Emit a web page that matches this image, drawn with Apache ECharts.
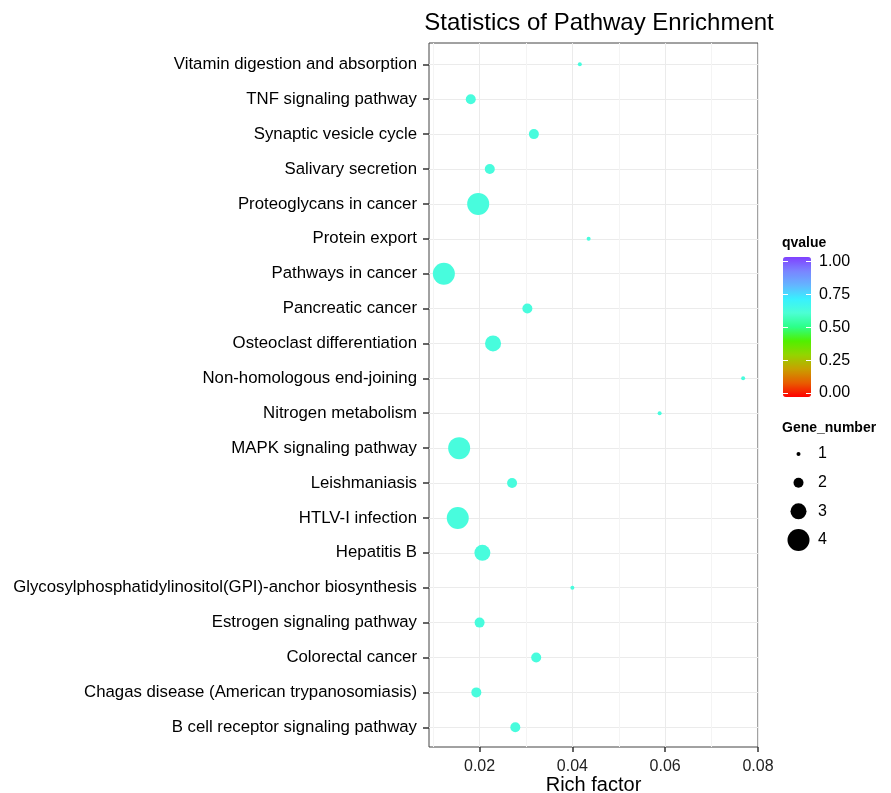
<!DOCTYPE html>
<html>
<head>
<meta charset="utf-8">
<script src="https://cdn.jsdelivr.net/npm/echarts@6/dist/echarts.min.js"></script>
<style>
html, body { margin: 0; padding: 0; background: #fff; }
#chart { width: 891px; height: 793px; }
</style>
</head>
<body>
<div id="chart"></div>
<script>
// pathways listed bottom to top, as ggplot stacks them
var pathways = [
    'B cell receptor signaling pathway',
    'Chagas disease (American trypanosomiasis)',
    'Colorectal cancer',
    'Estrogen signaling pathway',
    'Glycosylphosphatidylinositol(GPI)-anchor biosynthesis',
    'Hepatitis B',
    'HTLV-I infection',
    'Leishmaniasis',
    'MAPK signaling pathway',
    'Nitrogen metabolism',
    'Non-homologous end-joining',
    'Osteoclast differentiation',
    'Pancreatic cancer',
    'Pathways in cancer',
    'Protein export',
    'Proteoglycans in cancer',
    'Salivary secretion',
    'Synaptic vesicle cycle',
    'TNF signaling pathway',
    'Vitamin digestion and absorption'
];
var richFactor = [0.0277, 0.0193, 0.0322, 0.0200, 0.0400, 0.0206, 0.0153, 0.0270, 0.0156, 0.0588,
                  0.0768, 0.0229, 0.0303, 0.0123, 0.0435, 0.0197, 0.0222, 0.0317, 0.0181, 0.0416];
var geneNumber = [2, 2, 2, 2, 1, 3, 4, 2, 4, 1,
                  1, 3, 2, 4, 1, 4, 2, 2, 2, 1];
var qvalue = [0.62, 0.62, 0.62, 0.62, 0.62, 0.62, 0.62, 0.62, 0.62, 0.62,
              0.62, 0.62, 0.62, 0.62, 0.62, 0.62, 0.62, 0.62, 0.62, 0.62];
var xTicks = [0.02, 0.04, 0.06, 0.08];
var xMinorLines = [0.01, 0.03, 0.05, 0.07];
var geneLevels = [1, 2, 3, 4];

var dotSize = {1: 4, 2: 10, 3: 16, 4: 22};
var font = 'Liberation Sans, Arial, sans-serif';

var points = [];
for (var i = 0; i < pathways.length; i++) {
    points.push([richFactor[i], i, geneNumber[i], qvalue[i]]);
}
var legendDots = geneLevels.map(function (g) { return [0, g, g]; });

// white tick marks drawn over the colour bar
function barTicks(offset) {
    return {
        gridIndex: 2, type: 'value', min: 0, max: 1, interval: 0.25, position: 'left', offset: offset,
        axisLine: { show: false },
        axisTick: { show: true, inside: offset === 0, length: 5, lineStyle: { color: '#fff', width: 1 } },
        axisLabel: { show: false },
        splitLine: { show: false }, z: 10
    };
}

var chart = echarts.init(document.getElementById('chart'));
chart.setOption({
    animation: false,
    title: [
        {
            text: 'Statistics of Pathway Enrichment',
            left: 594, top: 6, textAlign: 'center',
            textStyle: { fontFamily: font, fontSize: 24, fontWeight: 'normal', color: '#000' }
        },
        {
            text: 'qvalue', left: 782, top: 236, padding: 0,
            textStyle: { fontFamily: font, fontSize: 14, fontWeight: 'bold', color: '#000' }
        },
        {
            text: 'Gene_number', left: 782, top: 421, padding: 0,
            textStyle: { fontFamily: font, fontSize: 14, fontWeight: 'bold', color: '#000' }
        }
    ],
    grid: [
        // data rows
        { left: 429, right: 133, top: 64.3, bottom: 65.7, outerBoundsMode: 'none' },
        // panel frame
        { left: 429, right: 133, top: 43, bottom: 46, show: true, borderColor: '#444', borderWidth: 1,
          backgroundColor: 'transparent', outerBoundsMode: 'none' },
        // colour bar scale
        { left: 783, width: 28, top: 261.5, height: 131.5, outerBoundsMode: 'none' },
        // size legend
        { left: 788, width: 21, top: 454, height: 86, outerBoundsMode: 'none' }
    ],
    xAxis: [
        { gridIndex: 0, type: 'value', min: 0.0091, max: 0.08, show: false },
        {
            gridIndex: 1, type: 'value', min: 0.0091, max: 0.08, splitNumber: 7,
            name: 'Rich factor', nameLocation: 'middle', nameGap: 28, nameMoveOverlap: false,
            nameTextStyle: { fontFamily: font, fontSize: 20, color: '#000' },
            axisLine: { show: false },
            axisTick: { show: true, length: 5, lineStyle: { color: '#333', width: 1.5 }, customValues: xTicks },
            axisLabel: {
                fontFamily: font, fontSize: 16, color: '#222', margin: 12,
                customValues: xTicks,
                formatter: function (v) { return v.toFixed(2); }
            },
            splitLine: { show: true, lineStyle: { color: '#EBEBEB', width: 1 } }
        },
        {
            gridIndex: 1, type: 'value', min: 0.0091, max: 0.08, position: 'top',
            axisLine: { show: false },
            axisTick: { show: false, customValues: xMinorLines },
            axisLabel: { show: false, customValues: xMinorLines },
            splitLine: { show: true, lineStyle: { color: '#F4F4F4', width: 1 } }
        },
        { gridIndex: 2, type: 'value', show: false },
        { gridIndex: 3, type: 'value', min: -1, max: 1, show: false }
    ],
    yAxis: [
        {
            gridIndex: 0, type: 'value', min: 0, max: pathways.length - 1, interval: 1,
            axisLine: { show: false },
            axisTick: { show: true, length: 6, lineStyle: { color: '#333', width: 1.5 } },
            axisLabel: {
                fontFamily: font, fontSize: 16.8, color: '#000', margin: 12,
                formatter: function (v) { return pathways[v] || ''; }
            },
            splitLine: { show: true, lineStyle: { color: '#EBEBEB', width: 1 } }
        },
        { gridIndex: 1, type: 'value', min: 0, max: 1, show: false },
        {
            gridIndex: 2, type: 'value', min: 0, max: 1, interval: 0.25, position: 'right',
            axisLine: { show: false },
            axisTick: { show: false },
            axisLabel: { fontFamily: font, fontSize: 16, color: '#000', margin: 8,
                formatter: function (v) { return v.toFixed(2); } },
            splitLine: { show: false }, z: 10
        },
        barTicks(0),
        barTicks(-28),
        {
            gridIndex: 3, type: 'value', min: 1, max: 4, interval: 1, inverse: true, position: 'right',
            axisLine: { show: false }, axisTick: { show: false },
            axisLabel: { fontFamily: font, fontSize: 16, color: '#000', margin: 9 },
            splitLine: { show: false }
        }
    ],
    visualMap: {
        type: 'continuous',
        seriesIndex: 0, dimension: 3,
        min: 0, max: 1,
        orient: 'vertical',
        left: 783, top: 257, padding: 0,
        itemWidth: 28, itemHeight: 140,
        calculable: false, hoverLink: false,
        text: null, z: 1,
        inRange: {
            color: ['#FF0000', '#E85C00', '#C8A000', '#94D400', '#50F000', '#2CFF88',
                    '#4CFFD4', '#38F0FF', '#64B4FF', '#7A84FF', '#8040FF']
        }
    },
    series: [
        {
            type: 'scatter', xAxisIndex: 0, yAxisIndex: 0,
            data: points,
            symbolSize: function (d) { return dotSize[d[2]]; },
            itemStyle: { opacity: 1 },
            z: 5
        },
        {
            type: 'scatter', xAxisIndex: 4, yAxisIndex: 5,
            data: legendDots,
            symbolSize: function (d) { return dotSize[d[2]]; },
            itemStyle: { color: '#000', opacity: 1 },
            silent: true
        }
    ]
});
</script>
</body>
</html>
